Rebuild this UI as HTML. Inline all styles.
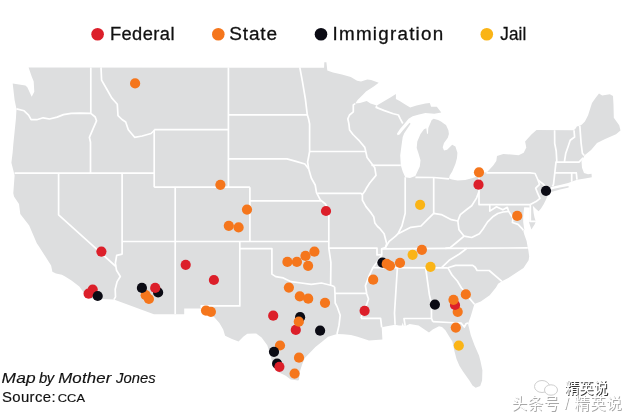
<!DOCTYPE html>
<html><head><meta charset="utf-8"><title>Map</title>
<style>
html,body{margin:0;padding:0;background:#fff;}
#wrap{position:relative;width:630px;height:416px;overflow:hidden;background:#fff;font-family:"Liberation Sans","Noto Sans CJK SC",sans-serif;}
.wm1{position:absolute;left:565px;top:379.3px;font-size:14.3px;line-height:18px;color:#fff;text-shadow:0.8px 0.8px 0.3px #333;white-space:nowrap;font-family:"Liberation Sans","Noto Sans CJK SC",sans-serif;font-weight:500;}
.wm2{position:absolute;left:511.5px;top:393.5px;font-size:15.6px;line-height:20px;color:#fff;text-shadow:0.9px 0.9px 0.3px #a8a8a8;white-space:nowrap;font-family:"Liberation Sans","Noto Sans CJK SC",sans-serif;letter-spacing:0.45px;}
</style></head><body>
<div id="wrap">
<svg width="630" height="416" viewBox="0 0 630 416" style="position:absolute;left:0;top:0">
<g fill="#dddedf" stroke="none"><polygon points="28.6,67.4 324.1,67.8 324.3,62.3 326.4,62.3 327.3,70.6 333.0,72.5 341.9,74.4 350.8,77.0 357.1,80.8 361.0,81.4 367.3,79.5 371.1,80.1 378.7,82.7 373.7,86.5 366.0,91.6 362.9,94.7 357.8,99.8 355.2,103.6 360.0,103.0 366.7,101.0 370.5,103.6 376.8,105.5 384.4,101.0 390.8,97.2 395.9,94.1 395.9,99.1 399.7,101.0 404.8,104.2 410.2,107.4 416.5,105.5 425.4,103.6 429.8,103.0 431.1,106.8 436.8,106.8 441.3,112.5 434.3,113.7 425.4,113.1 419.0,114.4 412.7,116.3 408.6,118.8 405.5,122.6 403.2,125.2 400.0,129.0 397.0,133.5 397.5,135.3 399.6,134.6 403.0,130.2 406.5,126.2 409.5,122.8 410.6,123.8 407.2,128.8 404.2,133.3 402.7,137.0 401.5,145.4 400.2,155.6 400.8,165.2 402.7,171.6 405.2,177.3 410.0,178.0 415.4,176.0 419.8,166.5 420.5,160.2 418.6,153.8 416.7,147.9 417.3,141.6 420.5,134.0 424.0,129.3 426.3,128.2 427.0,133.8 428.0,133.8 428.3,128.0 430.0,124.0 431.7,120.1 433.7,118.8 438.1,120.1 441.0,121.5 444.4,123.9 446.0,125.1 448.4,130.2 448.9,134.0 447.8,137.8 444.0,142.9 442.7,147.3 444.0,150.5 447.1,149.8 452.2,144.8 455.4,146.5 457.4,152.7 457.0,158.0 455.4,164.0 452.2,171.6 449.7,175.4 449.0,178.6 452.0,179.5 457.6,180.6 465.2,180.0 472.9,178.1 480.0,175.5 488.1,171.1 493.2,165.4 496.3,161.0 497.0,155.9 503.3,154.0 511.0,154.6 518.6,155.2 523.7,152.7 526.3,147.4 525.1,141.5 531.4,134.5 536.5,130.1 573.8,130.2 575.6,128.5 577.0,126.3 578.6,126.3 579.6,125.5 581.7,124.7 584.9,121.5 588.1,115.2 590.4,108.0 592.0,103.0 595.5,98.0 599.0,93.5 602.2,95.4 609.8,94.2 613.0,96.1 613.5,105.0 613.8,117.7 619.2,125.3 620.5,130.4 616.0,134.2 604.6,139.3 597.0,143.1 591.1,150.0 584.3,155.5 583.5,157.5 581.5,161.4 582.0,167.8 584.0,173.0 588.0,174.3 591.5,173.8 591.8,177.3 585.0,178.6 577.0,179.8 568.1,183.0 560.0,185.0 554.1,186.2 547.0,188.5 547.6,193.0 547.3,196.3 545.8,200.0 543.5,204.5 541.0,208.5 538.6,211.3 536.0,209.0 532.8,205.7 533.2,209.0 533.6,213.0 534.5,217.5 535.8,221.4 534.6,224.5 532.8,227.3 531.5,229.5 530.4,226.5 529.0,222.3 529.8,221.5 529.8,207.5 524.2,207.3 523.6,212.0 523.2,217.0 523.2,222.0 523.8,226.5 524.4,229.7 523.4,231.3 524.2,234.2 526.6,241.0 527.6,246.7 528.3,250.0 529.2,256.5 528.6,260.3 523.5,267.9 515.9,273.0 508.3,278.1 501.9,281.3 498.1,283.8 496.0,287.6 489.7,295.2 480.8,301.6 474.4,304.1 473.2,307.9 470.6,316.8 468.1,323.2 468.3,325.1 470.8,335.2 474.6,345.4 479.0,355.6 480.5,361.3 482.4,370.2 482.1,380.4 480.2,386.1 475.7,387.8 472.5,385.5 469.4,380.4 463.0,371.5 459.4,365.7 456.5,359.0 454.3,350.5 452.4,341.6 449.2,336.5 445.4,330.2 442.0,327.0 439.0,326.3 432.7,329.5 429.0,332.5 426.0,330.5 418.6,325.4 409.7,324.1 405.2,326.0 403.6,325.4 402.8,322.6 401.8,325.4 398.9,325.4 395.1,324.8 388.1,326.0 381.7,327.3 382.4,339.4 369.0,340.6 357.6,336.8 351.0,334.9 343.3,334.3 337.0,334.0 328.1,336.8 321.7,341.9 315.4,347.0 311.1,351.6 304.8,357.9 302.2,364.3 299.7,371.9 299.0,379.5 298.2,380.6 290.8,379.5 285.7,375.7 278.1,371.9 273.0,365.6 270.5,355.4 267.3,345.2 261.6,337.6 256.2,333.5 254.0,333.6 247.3,333.8 243.5,336.5 238.5,341.5 232.0,338.9 225.1,335.7 223.2,329.4 219.4,323.0 214.3,317.3 208.0,312.5 201.6,308.4 184.2,308.5 184.2,314.2 153.9,314.2 113.9,299.6 89.3,298.6 84.1,293.0 79.3,286.5 71.5,280.5 65.1,276.5 61.9,274.8 56.0,273.5 52.4,271.8 51.1,265.5 45.4,256.6 39.0,246.4 36.8,243.3 32.4,233.1 29.2,225.5 20.3,214.0 19.0,203.9 14.0,196.5 13.3,193.2 14.6,175.4 13.3,170.3 11.4,162.7 12.7,152.0 13.3,144.4 14.6,131.7 15.9,119.0 16.5,108.9 14.6,100.0 12.7,83.5 25.4,85.4 27.3,87.3 31.7,96.8 34.3,91.7 33.7,81.6 31.7,76.5"/><polygon points="549.0,190.5 553.0,189.0 560.0,187.5 568.5,186.0 568.7,187.6 560.0,189.6 553.0,191.6 549.5,192.4"/></g>
<g fill="none" stroke="#fff" stroke-width="1.7" stroke-linejoin="round" stroke-linecap="butt">
<polyline points="90.8,67.4 90.8,113.4 95.2,117.0 96.5,120.8 92.7,129.7 89.4,137.3 90.5,142.3 90.5,173.1"/>
<polyline points="16.5,108.9 24.1,110.8 28.6,115.2 31.1,119.7 36.8,119.7 43.2,117.8 49.5,119.0 57.1,117.1 63.5,114.6 71.1,113.3 80.0,113.1 90.8,113.4"/>
<polyline points="101.0,67.4 101.6,80.1 106.7,89.0 111.7,97.9 117.3,104.3 118.0,115.7 122.0,119.5 125.7,122.0 128.3,129.7 134.6,137.3 142.2,136.0 151.0,133.5 154.2,130.5"/>
<polyline points="14.6,173.1 154.2,173.1"/>
<polyline points="154.2,129.7 154.2,187.2"/>
<polyline points="154.2,129.7 228.4,129.7"/>
<polyline points="228.4,67.4 228.4,187.2"/>
<polyline points="228.4,114.8 307.5,114.8"/>
<polyline points="228.4,158.9 287.0,158.9 296.0,161.4 304.9,164.0 308.7,169.0"/>
<polyline points="154.2,187.2 249.9,187.2"/>
<polyline points="175.2,187.2 175.2,314.2"/>
<polyline points="122.1,241.5 328.8,241.5"/>
<polyline points="122.1,173.1 122.1,254.1 116.7,255.4 115.4,263.0 115.9,266.5 116.5,270.2 120.3,276.5 117.1,281.6 115.2,289.2 115.5,296.8 113.9,299.6"/>
<polyline points="58.6,173.1 58.6,214.8 115.9,266.5"/>
<polyline points="249.9,187.2 249.9,241.5"/>
<polyline points="249.9,200.9 321.2,200.9"/>
<polyline points="239.8,241.5 239.8,305.9 201.2,305.9 201.6,308.4"/>
<polyline points="239.8,248.6 271.9,248.6 271.9,274.1 275.7,276.6 283.3,277.9 291.0,281.7 301.1,283.0 311.3,284.3 321.4,283.0 331.6,285.5 334.6,286.8"/>
<polyline points="328.8,211.5 328.8,248.1 330.9,262.5 330.6,285.2"/>
<polyline points="308.7,169.0 311.3,178.0 315.2,185.0 316.5,192.6 320.3,199.8 321.6,200.9 325.4,204.0 327.8,208.5 328.9,211.5"/>
<polyline points="299.8,67.4 302.4,81.4 305.4,99.2 307.3,114.8 308.6,119.0 309.6,124.0 309.6,151.5 308.6,157.0 307.6,162.0 308.7,169.0"/>
<polyline points="309.6,151.5 366.0,151.5"/>
<polyline points="317.3,193.3 361.0,193.3 362.4,194.5"/>
<polyline points="355.2,103.6 353.3,104.9 353.3,111.8 349.5,115.0 347.8,118.8 348.9,123.9 349.6,130.0 353.0,134.5 358.4,139.8 364.8,147.4 366.0,152.5 367.1,157.6 374.8,167.8 376.0,175.4 369.7,183.0 366.5,188.0 364.8,191.3 362.4,194.5 362.4,200.2 366.0,206.6 371.1,212.9 373.7,216.7 374.9,223.1 377.5,226.5 380.0,228.7 384.1,233.7 386.7,243.8 385.4,247.6 381.6,248.9 381.8,254.7 379.0,259.5 373.0,267.4 369.2,275.6 365.4,285.7 366.7,293.7 368.5,299.0 366.5,305.0 363.0,312.0 361.0,318.3"/>
<polyline points="371.4,165.3 400.8,165.3"/>
<polyline points="405.2,177.3 405.2,213.3 401.9,226.0 398.1,233.7"/>
<polyline points="433.7,177.5 433.7,213.3"/>
<polyline points="415.4,177.3 433.7,177.5 449.0,178.8"/>
<polyline points="385.4,247.6 389.2,241.3 395.6,236.2 398.1,233.7 410.8,227.3 421.0,226.0 427.3,219.7 433.7,213.3 441.3,214.6 451.4,219.7 457.8,221.0 460.3,214.6 466.7,209.5 471.7,205.7 476.5,198.1 479.0,191.5"/>
<polyline points="479.0,176.0 479.0,204.6 530.3,204.6"/>
<polyline points="487.1,171.6 487.1,172.9 530.0,172.9 535.1,173.5 538.0,180.0"/>
<polyline points="538.0,180.0 539.5,184.3 535.7,188.1 537.6,193.2 540.0,198.3 536.0,201.6 530.3,204.6"/>
<polyline points="538.0,180.0 542.7,183.7 547.0,188.0"/>
<polyline points="554.6,130.2 554.7,143.4 556.2,151.0 556.8,161.2 556.0,162.1 554.8,172.9 553.5,184.3 552.5,186.4"/>
<polyline points="574.0,130.2 574.6,137.0 570.2,140.2 568.3,145.9 565.7,153.6 564.4,162.0"/>
<polyline points="579.8,125.5 581.1,143.1 582.4,153.3 584.2,155.6"/>
<polyline points="556.0,162.1 579.0,162.1 583.2,157.8"/>
<polyline points="554.8,172.9 577.0,172.9"/>
<polyline points="571.7,172.9 571.7,181.8"/>
<polyline points="576.3,172.9 577.0,179.7"/>
<polyline points="530.3,204.6 530.3,221.4 535.9,221.4"/>
<polyline points="489.8,204.6 489.8,211.1 496.5,206.7 502.9,209.8 507.3,207.3 508.6,211.3 513.0,218.1 512.4,222.5 518.1,224.4 521.9,228.3 523.5,230.5"/>
<polyline points="464.1,236.2 471.7,237.5 479.4,233.7 483.0,229.0 487.6,221.9 492.7,216.8 497.8,213.5 503.0,212.0 508.6,211.3"/>
<polyline points="457.8,221.0 459.0,229.8 464.1,236.2"/>
<polyline points="464.1,236.2 456.5,242.5 450.2,247.6 445.3,248.4"/>
<polyline points="527.8,247.9 445.3,248.4 381.6,248.9"/>
<polyline points="441.6,267.6 449.2,260.3 459.4,254.0 464.4,250.2 467.0,248.2"/>
<polyline points="373.0,267.6 447.9,267.8"/>
<polyline points="447.9,267.8 455.6,265.4 472.7,265.4 475.2,267.3 477.1,270.5 489.2,270.5 501.9,281.3"/>
<polyline points="447.9,267.8 452.0,275.0 457.3,281.0 461.5,288.0 466.5,293.0 470.0,299.0 474.4,304.1"/>
<polyline points="397.4,267.6 394.5,313.0 395.1,324.8"/>
<polyline points="425.6,267.6 429.4,294.9 431.4,303.5 431.5,318.3 432.8,321.7"/>
<polyline points="405.2,325.8 404.0,318.5 431.5,318.5"/>
<polyline points="432.8,321.7 449.0,322.5 461.2,323.2 464.3,327.0 466.2,323.5 468.1,323.2"/>
<polyline points="361.0,318.3 380.6,318.3 381.7,327.3"/>
<polyline points="335.0,293.4 366.7,293.4"/>
<polyline points="334.6,286.8 335.0,294.0 335.2,303.0 337.0,306.3 340.2,315.2 339.0,325.4 337.0,334.0"/>
<polyline points="328.8,248.1 377.0,248.1 377.0,255.0 381.8,254.7"/>
<polyline points="376.8,105.5 376.2,107.4 384.4,110.6 393.3,113.7 398.4,115.0 400.3,118.8 402.8,123.5"/>
</g>
<g>
<circle cx="135.1" cy="83.4" r="5.1" fill="#f5761c"/>
<circle cx="220.4" cy="184.8" r="5.1" fill="#f5761c"/>
<circle cx="247.0" cy="209.6" r="5.1" fill="#f5761c"/>
<circle cx="228.8" cy="225.8" r="5.1" fill="#f5761c"/>
<circle cx="238.6" cy="227.4" r="5.1" fill="#f5761c"/>
<circle cx="326.0" cy="211.0" r="5.1" fill="#dc1f2a"/>
<circle cx="314.4" cy="251.7" r="5.1" fill="#f5761c"/>
<circle cx="305.5" cy="255.9" r="5.1" fill="#f5761c"/>
<circle cx="287.4" cy="261.9" r="5.1" fill="#f5761c"/>
<circle cx="296.9" cy="261.9" r="5.1" fill="#f5761c"/>
<circle cx="308.1" cy="265.8" r="5.1" fill="#f5761c"/>
<circle cx="288.9" cy="287.6" r="5.1" fill="#f5761c"/>
<circle cx="299.8" cy="296.4" r="5.1" fill="#f5761c"/>
<circle cx="308.2" cy="298.7" r="5.1" fill="#f5761c"/>
<circle cx="325.0" cy="302.8" r="5.1" fill="#f5761c"/>
<circle cx="273.2" cy="315.7" r="5.1" fill="#dc1f2a"/>
<circle cx="300.1" cy="317.2" r="5.1" fill="#0b0b14"/>
<circle cx="295.8" cy="329.9" r="5.1" fill="#dc1f2a"/>
<circle cx="298.8" cy="321.7" r="5.1" fill="#f5761c"/>
<circle cx="320.1" cy="330.7" r="5.1" fill="#0b0b14"/>
<circle cx="280.0" cy="345.5" r="5.1" fill="#f5761c"/>
<circle cx="274.0" cy="351.8" r="5.1" fill="#0b0b14"/>
<circle cx="299.0" cy="357.7" r="5.1" fill="#f5761c"/>
<circle cx="277.1" cy="363.7" r="5.1" fill="#0b0b14"/>
<circle cx="279.4" cy="366.8" r="5.1" fill="#dc1f2a"/>
<circle cx="294.6" cy="373.6" r="5.1" fill="#f5761c"/>
<circle cx="185.7" cy="264.8" r="5.1" fill="#dc1f2a"/>
<circle cx="213.9" cy="280.0" r="5.1" fill="#dc1f2a"/>
<circle cx="206.0" cy="310.6" r="5.1" fill="#f5761c"/>
<circle cx="210.9" cy="311.8" r="5.1" fill="#f5761c"/>
<circle cx="145.7" cy="295.2" r="5.1" fill="#f5761c"/>
<circle cx="148.9" cy="299.0" r="5.1" fill="#f5761c"/>
<circle cx="141.9" cy="287.9" r="5.1" fill="#0b0b14"/>
<circle cx="158.1" cy="292.4" r="5.1" fill="#0b0b14"/>
<circle cx="155.2" cy="287.9" r="5.1" fill="#dc1f2a"/>
<circle cx="101.4" cy="251.6" r="5.1" fill="#dc1f2a"/>
<circle cx="92.7" cy="289.6" r="5.1" fill="#dc1f2a"/>
<circle cx="88.6" cy="293.7" r="5.1" fill="#dc1f2a"/>
<circle cx="97.7" cy="296.0" r="5.1" fill="#0b0b14"/>
<circle cx="364.6" cy="310.8" r="5.1" fill="#dc1f2a"/>
<circle cx="373.2" cy="279.7" r="5.1" fill="#f5761c"/>
<circle cx="382.4" cy="262.6" r="5.1" fill="#0b0b14"/>
<circle cx="386.7" cy="263.9" r="5.1" fill="#f5761c"/>
<circle cx="390.0" cy="265.8" r="5.1" fill="#f5761c"/>
<circle cx="400.0" cy="262.8" r="5.1" fill="#f5761c"/>
<circle cx="412.6" cy="254.8" r="5.1" fill="#fab416"/>
<circle cx="421.9" cy="249.8" r="5.1" fill="#f5761c"/>
<circle cx="430.5" cy="266.8" r="5.1" fill="#fab416"/>
<circle cx="420.1" cy="204.8" r="5.1" fill="#fab416"/>
<circle cx="479.0" cy="172.3" r="5.1" fill="#f5761c"/>
<circle cx="478.5" cy="184.7" r="5.1" fill="#dc1f2a"/>
<circle cx="546.0" cy="190.8" r="5.1" fill="#0b0b14"/>
<circle cx="517.2" cy="215.9" r="5.1" fill="#f5761c"/>
<circle cx="434.9" cy="304.6" r="5.1" fill="#0b0b14"/>
<circle cx="465.8" cy="294.4" r="5.1" fill="#f5761c"/>
<circle cx="457.7" cy="311.8" r="5.1" fill="#f5761c"/>
<circle cx="455.0" cy="305.0" r="5.1" fill="#dc1f2a"/>
<circle cx="453.5" cy="299.8" r="5.1" fill="#f5761c"/>
<circle cx="455.8" cy="327.6" r="5.1" fill="#f5761c"/>
<circle cx="458.8" cy="345.6" r="5.1" fill="#fab416"/>
</g>
<g><circle cx="97.6" cy="34.3" r="6.3" fill="#dc1f2a"/><circle cx="218.3" cy="34.3" r="6.3" fill="#f5761c"/><circle cx="321" cy="34.3" r="6.3" fill="#0b0b14"/><circle cx="486.8" cy="34.3" r="6.3" fill="#fab416"/></g>
<g font-family="'Liberation Sans', sans-serif" fill="#111" stroke="#111" stroke-width="0.28"><text transform="translate(109.90,40.4) scale(1.04,1)" font-size="17.6" letter-spacing="0.411">Federal</text><text transform="translate(229.24,40.4) scale(1.08,1)" font-size="17.6" letter-spacing="0.793">State</text><text transform="translate(332.56,40.4) scale(1.07,1)" font-size="17.6" letter-spacing="1.149">Immigration</text><text transform="translate(500.23,40.4) scale(0.97,1)" font-size="17.6" letter-spacing="0.169">Jail</text></g>
<g font-family="'Liberation Sans', sans-serif" fill="#111" stroke="#111" stroke-width="0.15"><text transform="translate(1.57,382.9) scale(1.2,1)" font-size="14.4" font-style="italic" letter-spacing="0.156">Map</text><text transform="translate(39.09,382.9) scale(1.03,1)" font-size="14.4" font-style="italic" letter-spacing="-0.486">by</text><text transform="translate(58.18,382.9) scale(1.17,1)" font-size="14.4" font-style="italic" letter-spacing="0.139">Mother</text><text transform="translate(116.04,382.9) scale(1.03,1)" font-size="14.4" font-style="italic" letter-spacing="-0.003">Jones</text><text transform="translate(1.92,401.7) scale(1.08,1)" font-size="13.8" letter-spacing="0.366">Source:</text><text transform="translate(57.65,401.7) scale(1.2,1)" font-size="10.7" letter-spacing="0.112">CCA</text></g>
</svg>
<svg width="30" height="18" viewBox="0 0 30 18" style="position:absolute;left:532px;top:379px">
<g fill="#fff" stroke="#cfcfcf" stroke-width="1"><ellipse cx="10" cy="7.5" rx="7.5" ry="6"/><ellipse cx="19" cy="11" rx="6.5" ry="5.2"/></g></svg>
<div class="wm1">精英说</div>
<div class="wm2">头条号 / 精英说</div>
</div>
</body></html>
